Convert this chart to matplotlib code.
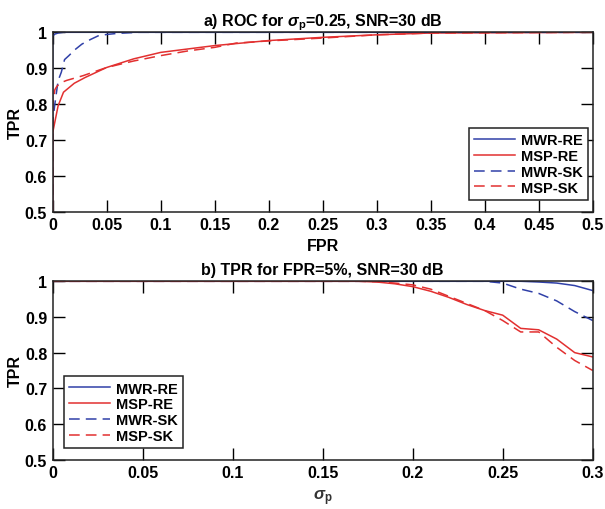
import numpy as np
import matplotlib
matplotlib.use('Agg')
import matplotlib.pyplot as plt

plt.rcParams['font.family'] = ['Liberation Sans', 'DejaVu Sans']
plt.rcParams['font.weight'] = 'bold'
plt.rcParams['mathtext.fontset'] = 'custom'
plt.rcParams['mathtext.rm'] = 'Liberation Sans:bold'
plt.rcParams['mathtext.it'] = 'Liberation Sans:italic'
plt.rcParams['mathtext.bf'] = 'Liberation Sans:bold'

BLUE = '#3040a8'
RED = '#e23030'

# a) ROC curves, sigma_p = 0.25
fpr_mwr_re = [0, 0, 0.002, 0.005, 0.01, 0.02, 0.5]
tpr_mwr_re = [0.5, 0.99, 0.995, 0.998, 1.0, 1.0, 1.0]

fpr_msp_re = [0, 0, 0.002, 0.005, 0.01, 0.02, 0.03, 0.05, 0.075, 0.1,
              0.15, 0.2, 0.25, 0.3, 0.35, 0.5]
tpr_msp_re = [0.5, 0.72, 0.75, 0.795, 0.833, 0.858, 0.874, 0.902, 0.926, 0.944,
              0.963, 0.977, 0.986, 0.993, 0.998, 1.0]

fpr_mwr_sk = [0, 0, 0.002, 0.005, 0.008, 0.011, 0.015, 0.02, 0.027, 0.035,
              0.042, 0.05, 0.06, 0.08, 0.5]
tpr_mwr_sk = [0.5, 0.75, 0.80, 0.865, 0.889, 0.924, 0.935, 0.95, 0.967, 0.98,
              0.99, 0.994, 0.997, 1.0, 1.0]

fpr_msp_sk = [0, 0, 0.002, 0.004, 0.008, 0.013, 0.028, 0.05, 0.075, 0.1,
              0.125, 0.15, 0.17, 0.2, 0.25, 0.3, 0.35, 0.5]
tpr_msp_sk = [0.5, 0.80, 0.84, 0.85, 0.86, 0.866, 0.879, 0.902, 0.92, 0.935,
              0.948, 0.958, 0.970, 0.976, 0.984, 0.993, 0.998, 1.0]

# b) TPR at FPR = 5% versus sigma_p
sigma_p = [round(0.01 * i, 2) for i in range(31)]
tpr_b_mwr_re = [1.0] * 26 + [1.0, 0.998, 0.995, 0.988, 0.974]
tpr_b_mwr_sk = [1.0] * 25 + [0.995, 0.978, 0.966, 0.945, 0.915, 0.89]
tpr_b_msp_re = [1.0] * 18 + [0.998, 0.993, 0.985, 0.972, 0.955, 0.935, 0.918,
                             0.905, 0.868, 0.864, 0.838, 0.80, 0.788]
tpr_b_msp_sk = [1.0] * 18 + [0.999, 0.995, 0.99, 0.978, 0.958, 0.938, 0.918,
                             0.89, 0.858, 0.858, 0.815, 0.778, 0.75]

labels = ['MWR-RE', 'MSP-RE', 'MWR-SK', 'MSP-SK']
styles = [(BLUE, '-'), (RED, '-'), (BLUE, (0, (7, 4))), (RED, (0, (7, 4)))]

fig = plt.figure(figsize=[6.05, 5.1], dpi=100)
ax1 = fig.add_axes([0.0871, 0.583, 0.8926, 0.3517])
ax2 = fig.add_axes([0.0871, 0.0967, 0.8926, 0.3498])


def draw(ax, xs, ys):
    for x, y, lab, (c, ls) in zip(xs, ys, labels, styles):
        ax.plot(x, y, color=c, linestyle=ls, linewidth=1.1, label=lab)


def style_axes(ax):
    ax.set_ylim(0.5, 1.0)
    ax.set_yticks([0.5, 0.6, 0.7, 0.8, 0.9, 1.0])
    ax.set_yticklabels(['0.5', '0.6', '0.7', '0.8', '0.9', '1'])
    ax.tick_params(direction='in', length=8.5, width=1.0, top=True, right=True,
                   labelsize=11.5, pad=4)
    for s in ax.spines.values():
        s.set_linewidth(1.1)
        s.set_color('#222222')
    ax.set_ylabel('TPR', fontsize=11.5, fontweight='bold')
    ax.yaxis.set_label_coords(-0.056, 0.5)


def add_legend(ax, loc, anchor):
    leg = ax.legend(loc=loc, bbox_to_anchor=anchor, borderaxespad=0,
                    fontsize=10.5, handlelength=2.8, fancybox=False,
                    framealpha=1, edgecolor='#222222', labelspacing=0.12,
                    handletextpad=0.4, borderpad=0.35)
    leg.get_frame().set_linewidth(1.1)


draw(ax1, [fpr_mwr_re, fpr_msp_re, fpr_mwr_sk, fpr_msp_sk],
     [tpr_mwr_re, tpr_msp_re, tpr_mwr_sk, tpr_msp_sk])
style_axes(ax1)
ax1.set_xlim(0, 0.5)
xt = [0, 0.05, 0.1, 0.15, 0.2, 0.25, 0.3, 0.35, 0.4, 0.45, 0.5]
ax1.set_xticks(xt)
ax1.set_xticklabels(['0', '0.05', '0.1', '0.15', '0.2', '0.25', '0.3',
                     '0.35', '0.4', '0.45', '0.5'])
ax1.set_xlabel('FPR', fontsize=11.5, fontweight='bold', labelpad=4)
ax1.set_title(r'a) ROC for $\sigma_\mathbf{p}$=0.25, SNR=30 dB',
              fontsize=11.5, fontweight='bold', pad=5)
add_legend(ax1, 'lower right', (0.991, 0.067))

draw(ax2, [sigma_p] * 4, [tpr_b_mwr_re, tpr_b_msp_re, tpr_b_mwr_sk, tpr_b_msp_sk])
style_axes(ax2)
ax2.set_xlim(0, 0.3)
ax2.set_xticks([0, 0.05, 0.1, 0.15, 0.2, 0.25, 0.3])
ax2.set_xticklabels(['0', '0.05', '0.1', '0.15', '0.2', '0.25', '0.3'])
ax2.set_xlabel(r'$\sigma_\mathbf{p}$', fontsize=12, labelpad=5, color='#333333')
ax2.set_title(r'b) TPR for FPR=5%, SNR=30 dB', fontsize=11.5,
              fontweight='bold', pad=5)
add_legend(ax2, 'lower left', (0.0215, 0.066))

fig.savefig('out.png', dpi=100, facecolor='white')
